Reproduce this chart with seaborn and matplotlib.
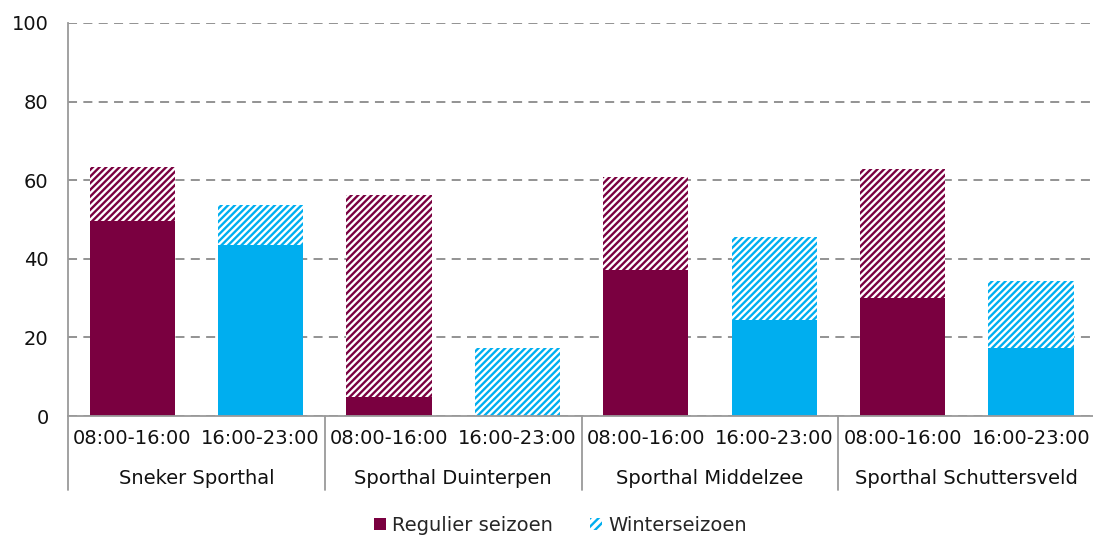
import matplotlib
matplotlib.use("Agg")
import matplotlib.pyplot as plt
import matplotlib.transforms as mtransforms
from matplotlib.patches import Patch
from matplotlib.lines import Line2D
import seaborn as sns
import pandas as pd

# ---- data ----
groups = ["Sneker Sporthal", "Sporthal Duinterpen", "Sporthal Middelzee", "Sporthal Schuttersveld"]
slots = ["08:00-16:00", "16:00-23:00"]
regulier = [49.5, 43.5, 4.8, 0.0, 37.2, 24.4, 30.0, 17.3]   # solid part
totaal = [63.4, 53.7, 56.3, 17.3, 60.8, 45.5, 62.8, 34.4]     # top of hatched part
legend_labels = ["Regulier seizoen", "Winterseizoen"]
yticks = [0, 20, 40, 60, 80, 100]

maroon = "#7A0040"
cyan = "#00AEEF"
HATCH = "/////"

rows = []
for gi, g in enumerate(groups):
    for si, s in enumerate(slots):
        i = gi * 2 + si
        rows.append({"bar": f"{g}|{s}", "group": g, "slot": s,
                     "regulier": regulier[i], "totaal": totaal[i]})
df = pd.DataFrame(rows)

sns.set_style("white")
plt.rcParams["font.family"] = ["DejaVu Sans"]
plt.rcParams["hatch.linewidth"] = 1.7

fig = plt.figure(figsize=(10.93, 5.35), dpi=100)
ax = fig.add_axes([68 / 1093, 119 / 535, 8 * 128.4 / 1093, 393 / 535])

palette = {slots[0]: maroon, slots[1]: cyan}
order = list(df["bar"])

# hatched totals (background)
sns.barplot(data=df, x="bar", y="totaal", hue="slot", palette=palette, order=order,
            dodge=False, width=0.662, legend=False, ax=ax, saturation=1)
n_hatch = len(ax.patches)
for p in ax.patches:
    c = p.get_facecolor()
    p.set_facecolor("white")
    p.set_edgecolor(c)
    p.set_linewidth(0)
    p.set_hatch(HATCH)

# solid regular season parts
sns.barplot(data=df, x="bar", y="regulier", hue="slot", palette=palette, order=order,
            dodge=False, width=0.662, legend=False, ax=ax, saturation=1)
for p in ax.patches[n_hatch:]:
    p.set_linewidth(0)

ax.set_xlim(-0.5, len(order) - 0.5)
ax.set_ylim(0, 100)
ax.set_yticks(yticks)
ax.set_yticklabels([str(v) for v in yticks], fontsize=14)
ax.set_xticks(range(len(order)))
ax.set_xticklabels([r["slot"] for r in rows], fontsize=14)
ax.tick_params(axis="y", length=0, pad=14, colors="#111111")
ax.tick_params(axis="x", length=0, pad=9, colors="#111111")
ax.set_xlabel("")
ax.set_ylabel("")

ax.set_axisbelow(True)
ax.yaxis.grid(True, color="#8a8a8a", linestyle=(0, (5, 3.5)), linewidth=1.3)
ax.xaxis.grid(False)
for side in ["top", "right"]:
    ax.spines[side].set_visible(False)
for side in ["left", "bottom"]:
    ax.spines[side].set_color("#9a9a9a")
    ax.spines[side].set_linewidth(1.3)

# group labels and separators
trans = mtransforms.blended_transform_factory(ax.transData, ax.transAxes)
for gi, g in enumerate(groups):
    ax.text(gi * 2 + 0.5, -0.158, g, transform=trans, ha="center", va="center",
            fontsize=14, color="#111111")
    xsep = gi * 2 - 0.5
    ax.add_line(Line2D([xsep, xsep], [0, -0.188], transform=trans, color="#9a9a9a",
                       linewidth=1.3, clip_on=False))

handles = [Patch(facecolor=maroon, edgecolor=maroon, linewidth=0),
           Patch(facecolor="white", edgecolor=cyan, hatch="////", linewidth=0)]
fig.legend(handles, legend_labels, loc="center", bbox_to_anchor=(0.513, 0.018), ncol=2,
           frameon=False, fontsize=14, handlelength=0.6, handleheight=0.6,
           handletextpad=0.35, columnspacing=1.9)

fig.savefig("out.png", dpi=100)
